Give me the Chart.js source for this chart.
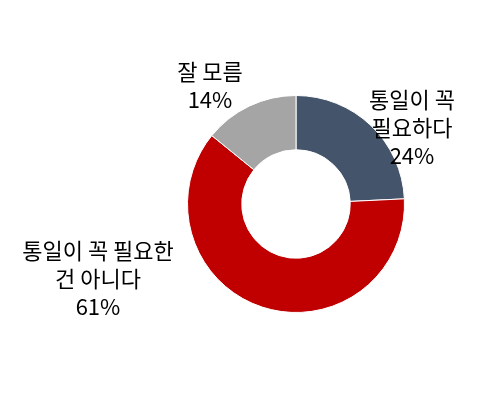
<!DOCTYPE html><html><head><meta charset="utf-8">
<script src="https://cdn.jsdelivr.net/npm/chart.js@4"></script>
<style>body{margin:0;background:#fff}</style></head><body>
<canvas id="c" width="500" height="403" style="width:500px;height:403px"></canvas>
<script>
const categories=[["통일이 꼭","필요하다"],["통일이 꼭 필요한","건 아니다"],["잘 모름"]];
const values=[24,61,14];
const colors=['#44546A','#C00000','#A5A5A5'];
const labelPos=[[412,100],[98,251],[210,72]];
const labelPlugin={id:'lbl',afterDraw(ch){const c=ch.ctx;c.save();c.font='22px "Noto Sans CJK KR"';c.fillStyle='#000';c.textAlign='center';c.textBaseline='middle';
categories.forEach((cat,i)=>{const lines=[...cat,values[i]+'%'];const [x,y]=labelPos[i];lines.forEach((t,j)=>c.fillText(t,x,y+j*28));});c.restore();}};
new Chart(document.getElementById('c'),{type:'doughnut',data:{labels:categories.map(c=>c.join(' ')),datasets:[{data:values,backgroundColor:colors,borderColor:'#fff',borderWidth:1}]},
options:{responsive:false,animation:false,cutout:'50%',layout:{padding:{left:187,right:95,top:95,bottom:90}},plugins:{legend:{display:false},tooltip:{enabled:false}}},plugins:[labelPlugin]});
</script></body></html>
